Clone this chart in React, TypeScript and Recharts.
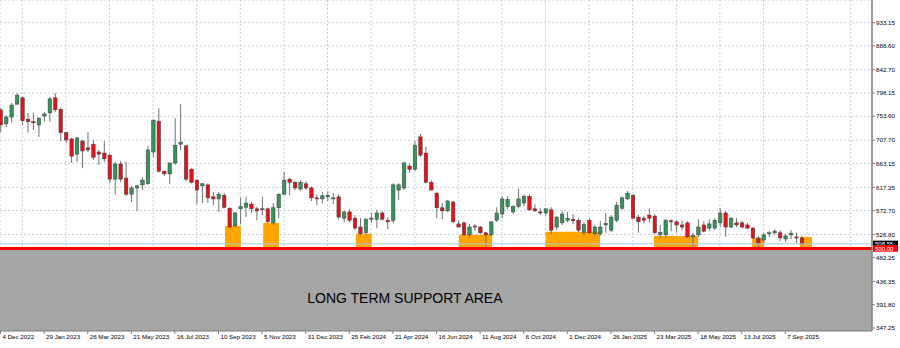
import {
	Bar,
	CartesianGrid,
	ComposedChart,
	ReferenceArea,
	ReferenceDot,
	ReferenceLine,
	XAxis,
	YAxis,
} from "recharts";

// weekly candles, bar 0 = week of 4 Dec 2022
const opens = [
	766, 739, 752, 777, 789, 748, 743, 737, 754, 760, 789, 767, 722, 710, 681, 706, 693, 700, 685, 683,
	679, 633, 662, 635, 604, 616, 622, 624, 685, 744, 648, 643, 664, 700, 697, 652, 631, 620, 622, 599,
	595, 602, 577, 543, 576, 579, 585, 576, 575, 576, 549, 578, 604, 633, 627, 614, 624, 616, 597, 595,
	599, 597, 599, 558, 570, 558, 541, 530, 558, 556, 568, 554, 554, 612, 616, 658, 652, 714, 683, 627,
	606, 578, 572, 589, 547, 549, 526, 543, 541, 530, 526, 554, 566, 580, 570, 581, 587, 600, 576, 570,
	568, 574, 541, 549, 554, 556, 554, 531, 554, 528, 528, 545, 535, 554, 577, 595, 602, 560, 558, 564,
	562, 526, 526, 553, 551, 545, 549, 522, 526, 545, 539, 539, 549, 568, 541, 549, 549, 545, 539, 520,
	516, 528, 530, 530, 518, 526, 522, 520,
];
const highs = [
	770, 756, 779, 798, 791, 760, 760, 752, 762, 791, 798, 770, 724, 712, 714, 708, 723, 708, 689, 706,
	681, 666, 668, 666, 620, 622, 637, 697, 748, 769, 650, 664, 750, 777, 698, 654, 633, 625, 625, 608,
	608, 606, 579, 570, 597, 599, 589, 580, 599, 578, 587, 606, 647, 635, 629, 631, 629, 619, 604, 608,
	610, 606, 604, 572, 575, 564, 558, 558, 568, 574, 572, 560, 625, 625, 666, 662, 706, 720, 695, 631,
	608, 587, 593, 591, 553, 551, 547, 547, 543, 531, 552, 579, 600, 600, 583, 615, 604, 604, 585, 577,
	577, 579, 562, 572, 570, 566, 558, 550, 558, 545, 552, 568, 564, 589, 600, 610, 604, 564, 562, 577,
	566, 545, 556, 556, 554, 554, 552, 530, 556, 552, 556, 558, 577, 572, 560, 558, 553, 549, 541, 524,
	530, 533, 537, 535, 528, 535, 530, 524,
];
const lows = [
	723, 733, 741, 775, 737, 722, 727, 714, 743, 743, 762, 706, 702, 664, 666, 654, 685, 670, 660, 666,
	625, 604, 627, 601, 589, 572, 612, 622, 675, 646, 639, 624, 660, 689, 629, 625, 585, 587, 587, 583,
	570, 577, 539, 541, 547, 560, 568, 554, 564, 549, 545, 558, 602, 602, 612, 610, 612, 591, 583, 587,
	591, 585, 556, 550, 550, 535, 526, 527, 549, 539, 554, 537, 548, 593, 612, 645, 648, 676, 625, 612,
	558, 556, 570, 549, 541, 524, 520, 533, 528, 503, 524, 551, 558, 575, 566, 577, 581, 572, 570, 564,
	562, 527, 535, 545, 550, 547, 531, 525, 527, 524, 524, 530, 531, 550, 574, 593, 556, 530, 548, 550,
	527, 520, 520, 533, 531, 535, 520, 503, 522, 531, 533, 535, 541, 522, 539, 541, 539, 537, 518, 503,
	510, 522, 526, 514, 512, 518, 510, 506,
];
const closes = [
	737, 752, 775, 794, 745, 743, 742, 750, 758, 787, 766, 722, 708, 677, 712, 687, 689, 675, 681, 672,
	633, 662, 633, 604, 616, 620, 631, 689, 746, 648, 643, 664, 698, 704, 633, 627, 612, 624, 597, 595,
	604, 579, 541, 568, 580, 587, 576, 572, 576, 551, 578, 604, 631, 627, 616, 627, 616, 597, 595, 601,
	602, 597, 560, 570, 554, 539, 528, 556, 558, 568, 556, 551, 622, 622, 664, 652, 698, 679, 627, 612,
	578, 572, 591, 551, 541, 526, 541, 541, 530, 526, 551, 568, 595, 594, 580, 595, 600, 574, 572, 568,
	576, 535, 560, 566, 558, 553, 535, 546, 530, 541, 541, 548, 560, 583, 597, 606, 558, 551, 554, 558,
	530, 531, 554, 551, 545, 541, 522, 525, 541, 533, 547, 554, 568, 541, 558, 545, 541, 539, 520, 510,
	526, 530, 533, 520, 524, 529, 521, 508.55,
];

const dateLabels = [
	"4 Dec 2022", "29 Jan 2023", "26 Mar 2023", "21 May 2023", "16 Jul 2023", "10 Sep 2023",
	"5 Nov 2023", "31 Dec 2023", "25 Feb 2024", "21 Apr 2024", "16 Jun 2024", "11 Aug 2024",
	"6 Oct 2024", "1 Dec 2024", "26 Jan 2025", "23 Mar 2025", "18 May 2025", "13 Jul 2025",
	"7 Sep 2025",
];
const labelWeeks = dateLabels.map((_, k) => k * 8);
const gridWeeks = Array.from({ length: 20 }, (_, k) => 4 + k * 8);

const priceTicks = [
	347.25, 391.8, 436.35, 482.25, 526.8, 572.7, 617.25, 663.15, 707.7, 753.6, 798.15, 842.7,
	888.6, 933.15,
];

// orange test zones over the support
const zoneStart = [41.2, 48.2, 65.2, 84.1, 100, 119.9, 137.9, 146.7];
const zoneEnd = [44.1, 51.1, 68.1, 90.2, 110, 128, 140.1, 148.9];
const zoneTop = [543, 549, 528, 526, 532, 524, 520, 522];

const supportLevel = 500;
const supportText = "LONG TERM SUPPORT AREA";
const supportTextWeek = 74.2;
const supportTextPrice = 405;

const X_DOMAIN: [number, number] = [-0.09, 159.9];
const Y_DOMAIN: [number, number] = [341.5, 976.7];
const FONT = "'Liberation Sans', Arial, sans-serif";

const data = opens.map((open, i) => ({
	week: i,
	open,
	high: highs[i],
	low: lows[i],
	close: closes[i],
	range: [lows[i], highs[i]],
}));
const lastClose = closes[closes.length - 1];

function Candle(props: any) {
	const { x, y, width, height, payload } = props;
	const { open, close, high, low } = payload;
	const top = Math.min(y, y + height);
	const h = Math.abs(height);
	const ppu = high > low ? h / (high - low) : 0;
	const cx = x + width / 2;
	const bodyTop = top + (high - Math.max(open, close)) * ppu;
	const bodyH = Math.max(1, Math.abs(open - close) * ppu);
	const up = close >= open;
	return (
		<g>
			<line x1={cx} x2={cx} y1={top} y2={top + h} stroke="#707070" strokeWidth={1} />
			<rect
				x={cx - 1.75}
				y={bodyTop}
				width={3.5}
				height={bodyH}
				fill={up ? "#34945a" : "#e3131b"}
				stroke="#3c3c3c"
				strokeWidth={0.5}
			/>
		</g>
	);
}

function DateTick(props: any) {
	const { x, y, payload } = props;
	const idx = labelWeeks.indexOf(payload.value);
	return (
		<text x={x + 2} y={y + 5} fontSize={6.2} fill="#000" fontFamily={FONT}>
			{idx >= 0 ? dateLabels[idx] : ""}
		</text>
	);
}

function priceTag(text: string, bg: string) {
	return (props: any) => {
		const { x, y, width } = props.viewBox;
		return (
			<g>
				<rect x={x + width + 1} y={y - 3.3} width={25} height={6.6} fill={bg} />
				<text
					x={x + width + 3}
					y={y + 2.2}
					fontSize={6}
					fill="#fff"
					fontFamily={FONT}
				>
					{text}
				</text>
			</g>
		);
	};
}

export default function App() {
	return (
		<div
			style={{
				position: "absolute",
				left: 0,
				top: 0,
				width: 900,
				height: 348,
				background: "#fff",
			}}
		>
			<ComposedChart
				width={900}
				height={348}
				data={data}
				margin={{ top: 0, right: 0, bottom: 0, left: 0 }}
			>
				<XAxis
					dataKey="week"
					type="number"
					domain={X_DOMAIN}
					allowDataOverflow
					ticks={labelWeeks}
					interval={0}
					height={17}
					tick={<DateTick />}
					tickSize={3}
					tickMargin={0}
					axisLine={{ stroke: "#808080" }}
					tickLine={{ stroke: "#808080" }}
				/>
				<XAxis
					xAxisId="grid"
					dataKey="week"
					type="number"
					domain={X_DOMAIN}
					allowDataOverflow
					ticks={gridWeeks}
					hide
				/>
				<YAxis
					orientation="right"
					type="number"
					domain={Y_DOMAIN}
					allowDataOverflow
					ticks={priceTicks}
					interval={0}
					width={28}
					tickSize={3}
					tickMargin={1}
					tickFormatter={(v: number) => v.toFixed(2)}
					tick={{ fontSize: 6.2, fill: "#000", fontFamily: FONT }}
					axisLine={{ stroke: "#808080", strokeWidth: 1.5 }}
					tickLine={{ stroke: "#808080" }}
				/>
				<CartesianGrid
					xAxisId="grid"
					stroke="#c3cfe0"
					strokeDasharray="2 2"
				/>
				<ReferenceArea
					x1={X_DOMAIN[0]}
					x2={X_DOMAIN[1]}
					y1={Y_DOMAIN[0]}
					y2={supportLevel}
					fill="#a6a6a6"
					fillOpacity={1}
					stroke="none"
				/>
				{zoneStart.map((s, k) => (
					<ReferenceArea
						key={k}
						x1={s}
						x2={zoneEnd[k]}
						y1={supportLevel}
						y2={zoneTop[k]}
						fill="#ffa500"
						fillOpacity={1}
						stroke="none"
					/>
				))}
				<ReferenceLine
					y={lastClose}
					stroke="#b6c4d8"
					strokeWidth={1}
					label={priceTag(lastClose.toFixed(2), "#000")}
				/>
				<ReferenceLine
					y={supportLevel}
					stroke="#ff0000"
					strokeWidth={3}
					label={priceTag(supportLevel.toFixed(2), "#ff0000")}
				/>
				<Bar
					dataKey="range"
					barSize={4}
					shape={<Candle />}
					isAnimationActive={false}
				/>
				<ReferenceDot
					x={supportTextWeek}
					y={supportTextPrice}
					r={0}
					fill="none"
					stroke="none"
					label={{
						value: supportText,
						position: "center",
						fill: "#000",
						fontSize: 14,
						fontFamily: FONT,
					}}
				/>
			</ComposedChart>
		</div>
	);
}
